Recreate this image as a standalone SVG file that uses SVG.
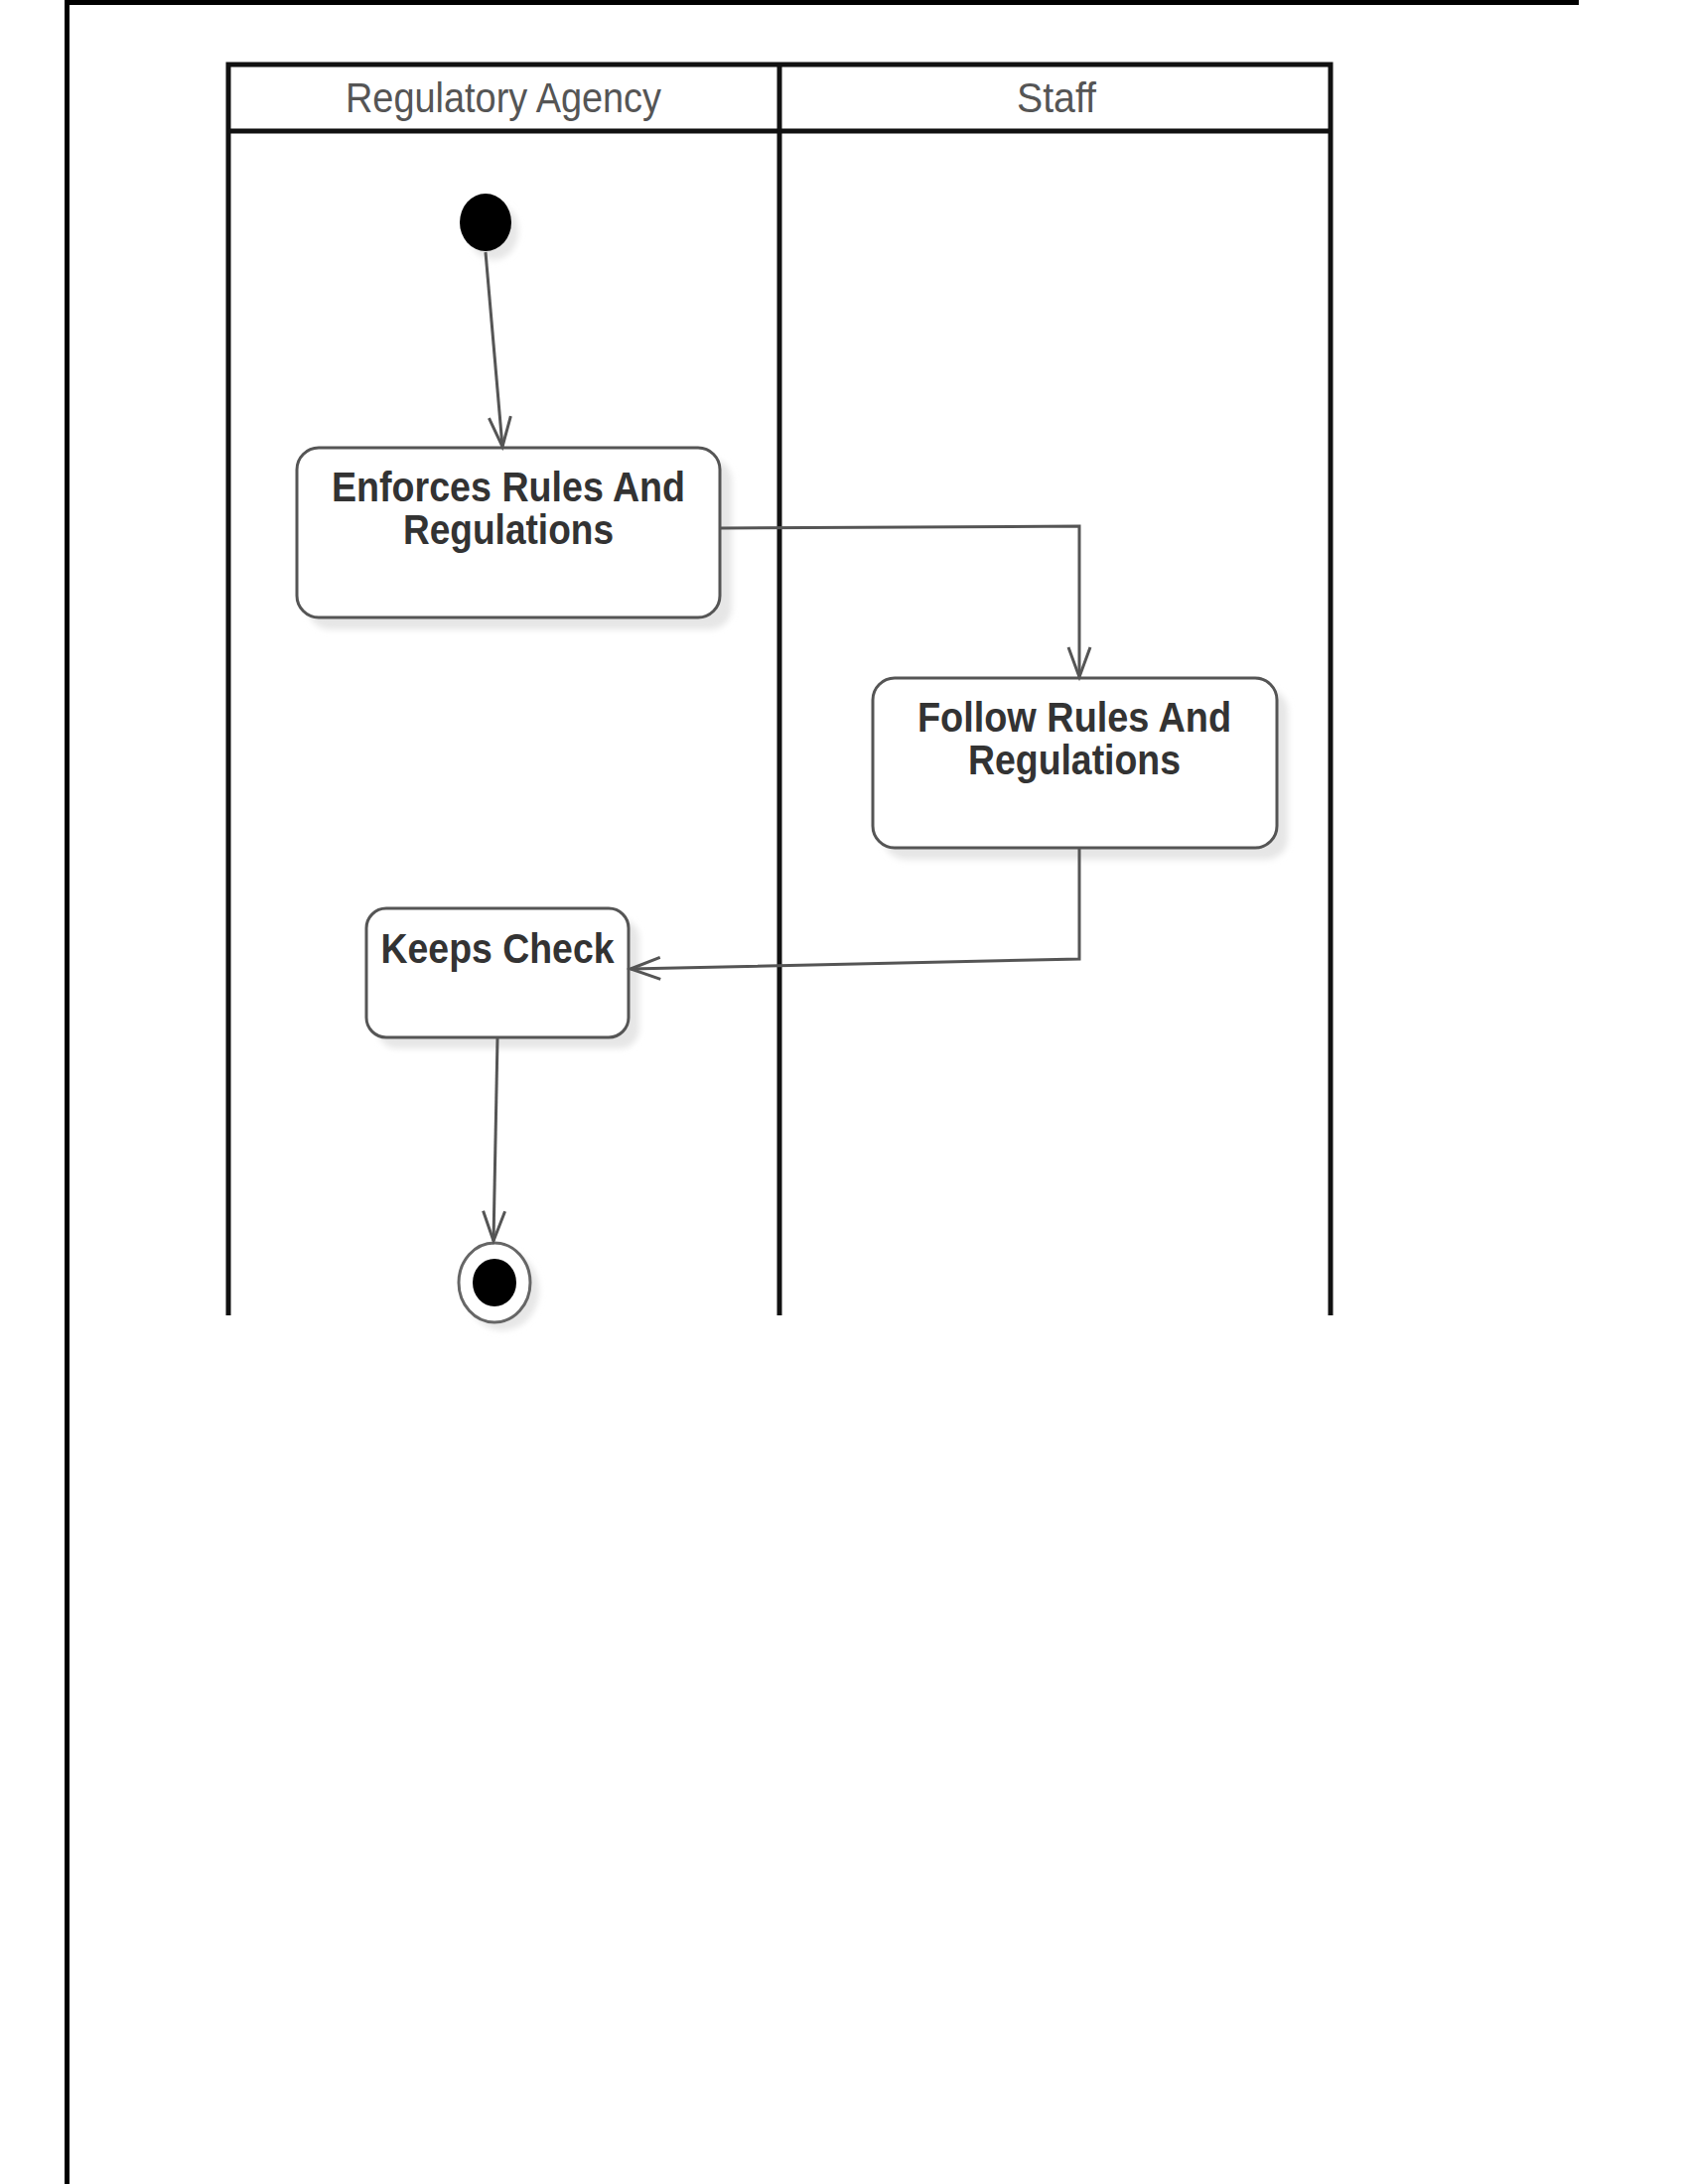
<svg xmlns="http://www.w3.org/2000/svg" width="1700" height="2200" viewBox="0 0 1700 2200">
  <style>
    .frame { fill: #000; }
    .lane { stroke: #111; stroke-width: 5; fill: none; }
    .head { font-family: "Liberation Sans", Arial, sans-serif; font-size: 42px; fill: #555; text-anchor: middle; }
    .act { fill: #fff; stroke: #555; stroke-width: 3; }
    .shadow { fill: #e6e6e6; filter: url(#soft); }
    .label { font-family: "Liberation Sans", Arial, sans-serif; font-weight: bold; font-size: 42px; fill: #333; text-anchor: middle; }
    .flow { fill: none; stroke: #555; stroke-width: 3; marker-end: url(#open); }
  </style>
  <defs>
    <filter id="soft" x="-20%" y="-20%" width="140%" height="140%">
      <feGaussianBlur stdDeviation="3"/>
    </filter>
    <marker id="open" markerUnits="userSpaceOnUse" markerWidth="40" markerHeight="30" viewBox="-34 -15 40 30" refX="0" refY="0" orient="auto">
      <path d="M -30 -11 L 0 0 L -30 11" fill="none" stroke="#555" stroke-width="3"/>
    </marker>
  </defs>

  <rect width="1700" height="2200" fill="#fff"/>

  <!-- page frame -->
  <rect class="frame" x="65" y="0" width="1525" height="5"/>
  <rect class="frame" x="65" y="0" width="5" height="2200"/>

  <!-- swimlanes -->
  <g id="lanes">
    <path class="lane" d="M 230 1325 V 65 H 1340 V 1325"/>
    <line class="lane" x1="230" y1="132" x2="1340" y2="132"/>
    <line class="lane" x1="785" y1="65" x2="785" y2="1325"/>
    <text class="head" x="507" y="113" textLength="318" lengthAdjust="spacingAndGlyphs">Regulatory Agency</text>
    <text class="head" x="1064" y="113" textLength="80" lengthAdjust="spacingAndGlyphs">Staff</text>
  </g>

  <!-- start -->
  <g id="start">
    <ellipse class="shadow" cx="497" cy="233" rx="25" ry="29"/>
    <ellipse cx="489" cy="224" rx="26" ry="29" fill="#000"/>
  </g>

  <g id="enforces">
    <rect class="shadow" x="310" y="462" width="427" height="172" rx="22"/>
    <rect class="act" x="299" y="451" width="426" height="171" rx="22"/>
    <text class="label" x="512" y="505" textLength="356" lengthAdjust="spacingAndGlyphs">Enforces Rules And</text>
    <text class="label" x="512" y="548" textLength="212" lengthAdjust="spacingAndGlyphs">Regulations</text>
  </g>

  <g id="follow">
    <rect class="shadow" x="890" y="694" width="407" height="172" rx="22"/>
    <rect class="act" x="879" y="683" width="407" height="171" rx="22"/>
    <text class="label" x="1082" y="737" textLength="316" lengthAdjust="spacingAndGlyphs">Follow Rules And</text>
    <text class="label" x="1082" y="780" textLength="214" lengthAdjust="spacingAndGlyphs">Regulations</text>
  </g>

  <g id="keeps">
    <rect class="shadow" x="380" y="926" width="264" height="130" rx="20"/>
    <rect class="act" x="369" y="915" width="264" height="130" rx="20"/>
    <text class="label" x="501" y="970" textLength="235" lengthAdjust="spacingAndGlyphs">Keeps Check</text>
  </g>

  <g id="end">
    <ellipse class="shadow" cx="506" cy="1300" rx="37" ry="40"/>
    <ellipse cx="498" cy="1292" rx="36" ry="40" fill="#fff" stroke="#666" stroke-width="3"/>
    <ellipse cx="498" cy="1292" rx="22" ry="24" fill="#000"/>
  </g>

  <!-- control flows -->
  <g id="connectors">
    <path class="flow" d="M 489 254 L 506 450"/>
    <path class="flow" d="M 726 532 L 1087 530 L 1087 682"/>
    <path class="flow" d="M 1087 855 L 1087 966 L 635 976"/>
    <path class="flow" d="M 501 1046 L 497 1250"/>
  </g>
</svg>
